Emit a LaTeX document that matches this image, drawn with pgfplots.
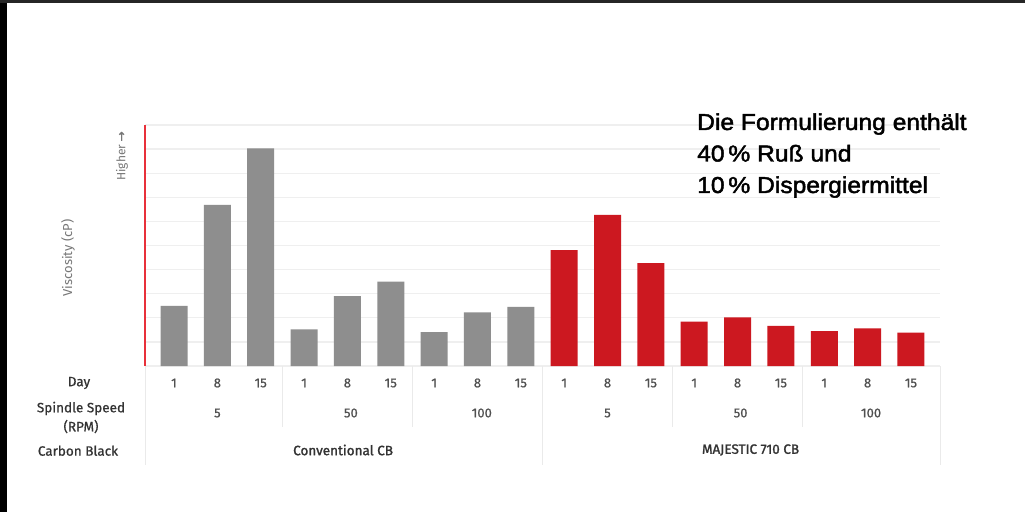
\documentclass[border=0pt]{standalone}
\usepackage{pgfplots}
\pgfplotsset{compat=1.18}
\usepackage{fontspec}
\setmainfont{Fira Sans}
\newfontfamily\medfont[FakeBold=0.8]{Fira Sans}
\newfontfamily\semfont[FakeBold=1.6]{Fira Sans}
\newfontfamily\annfont[FakeStretch=1.07,FakeBold=2]{Liberation Sans}
\newfontfamily\dejavu[FakeBold=1.5]{DejaVu Sans}
\definecolor{barGray}{HTML}{8E8E8E}
\definecolor{barRed}{HTML}{CC1820}
\definecolor{gridc}{HTML}{EFEFEF}
\definecolor{sepc}{HTML}{EAEAEA}
\definecolor{lblc}{HTML}{333333}
\definecolor{numc}{HTML}{505050}
\definecolor{ylab}{HTML}{777777}
\definecolor{axred}{HTML}{E8303A}
\begin{document}
\begin{tikzpicture}[x=1pt,y=1pt]
\useasboundingbox (0,0) rectangle (1025,512);
\fill[white] (0,0) rectangle (1025,512);
\begin{axis}[
  at={(145pt,146pt)}, anchor=south west,
  scale only axis, width=795pt, height=241pt,
  xmin=-0.67, xmax=17.67, ymin=0, ymax=10,
  axis line style={draw=none, opacity=0},
  ytick={0,...,10}, yticklabels={},
  ymajorgrids, major grid style={gridc, line width=1.3pt},
  major tick length=0pt,
  xtick={0,...,17},
  xticklabels={1,8,15,1,8,15,1,8,15,1,8,15,1,8,15,1,8,15},
  xticklabel style={font=\medfont\fontsize{13}{13}\selectfont, text=numc, anchor=center, yshift=-17pt},
  ybar, bar width=27pt,
  clip=false,
]
\addplot[fill=barGray, draw=none, bar shift=0pt] coordinates {(0,2.5) (1,6.69) (2,9.03) (3,1.52) (4,2.9) (5,3.5) (6,1.41) (7,2.23) (8,2.45)};
\addplot[fill=barRed, draw=none, bar shift=0pt] coordinates {(9,4.81) (10,6.27) (11,4.27) (12,1.84) (13,2.02) (14,1.67) (15,1.45) (16,1.56) (17,1.38)};
% separators
\draw[sepc, line width=1pt] (axis cs:2.5,0) -- ++(0pt,-61pt);
\draw[sepc, line width=1pt] (axis cs:5.5,0) -- ++(0pt,-61pt);
\draw[sepc, line width=1pt] (axis cs:11.5,0) -- ++(0pt,-61pt);
\draw[sepc, line width=1pt] (axis cs:14.5,0) -- ++(0pt,-61pt);
\draw[sepc, line width=1pt] (axis cs:-0.67,0) -- ++(0pt,-99pt);
\draw[sepc, line width=1pt] (axis cs:8.5,0) -- ++(0pt,-99pt);
\draw[sepc, line width=1pt] (axis cs:17.67,0) -- ++(0pt,-99pt);
% spindle speeds
\node[font=\medfont\fontsize{13}{13}\selectfont, text=numc, anchor=center, yshift=-47pt] at (axis cs:1,0) {5};
\node[font=\medfont\fontsize{13}{13}\selectfont, text=numc, anchor=center, yshift=-47pt] at (axis cs:4.08,0) {50};
\node[font=\medfont\fontsize{13}{13}\selectfont, text=numc, anchor=center, yshift=-47pt] at (axis cs:7.1,0) {100};
\node[font=\medfont\fontsize{13}{13}\selectfont, text=numc, anchor=center, yshift=-47pt] at (axis cs:10,0) {5};
\node[font=\medfont\fontsize{13}{13}\selectfont, text=numc, anchor=center, yshift=-47pt] at (axis cs:13.07,0) {50};
\node[font=\medfont\fontsize{13}{13}\selectfont, text=numc, anchor=center, yshift=-47pt] at (axis cs:16.08,0) {100};
\node[font=\semfont\fontsize{13.5}{13.5}\selectfont, text=lblc, anchor=center, yshift=-84pt] at (axis cs:3.9,0) {Conventional CB};
\node[font=\semfont\fontsize{13.5}{13.5}\selectfont, text=lblc, anchor=center, yshift=-84pt] at (axis cs:13.3,0) {MAJESTIC 710 CB};
\end{axis}
% red y axis line
\draw[axred, line width=1.1pt] (145,146) -- (145,387);
% frame strips
\fill[black] (0,0) rectangle (7,512);
\fill[black!85] (0,509) rectangle (1025,512);
% row labels
\node[font=\medfont\fontsize{13.5}{13.5}\selectfont, text=lblc, anchor=center] at (79,129) {Day};
\node[font=\medfont\fontsize{13.5}{19}\selectfont, text=lblc, anchor=center, align=center] at (81,94.5) {Spindle Speed\\(RPM)};
\node[font=\medfont\fontsize{13.5}{13.5}\selectfont, text=lblc, anchor=center] at (78,61.3) {Carbon Black};
% y labels
\node[font=\fontsize{13}{13}\selectfont, text=ylab, rotate=90, anchor=center] at (68,254) {Viscosity (cP)};
\node[font=\fontsize{12}{12}\selectfont, text=ylab, rotate=90, anchor=center] at (122,356) {Higher {\dejavu\fontsize{12}{12}\selectfont →}};
% annotation
\node[font=\annfont\fontsize{23}{23}\selectfont, anchor=base west, inner sep=0pt] at (697,382) {Die Formulierung enthält};
\node[font=\annfont\fontsize{23}{23}\selectfont, anchor=base west, inner sep=0pt] at (697,350.5) {40\,\% Ruß und};
\node[font=\annfont\fontsize{23}{23}\selectfont, anchor=base west, inner sep=0pt] at (697,319) {10\,\% Dispergiermittel};
\end{tikzpicture}
\end{document}
